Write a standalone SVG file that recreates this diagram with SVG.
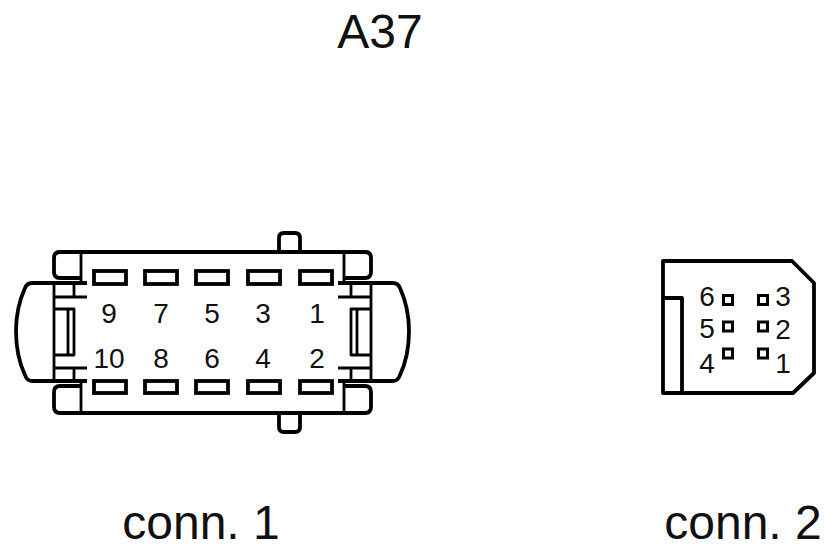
<svg xmlns="http://www.w3.org/2000/svg" width="834" height="554" viewBox="0 0 834 554">
<style>
.o{fill:none;stroke:#000;stroke-width:3.8;stroke-linejoin:round}
.t{stroke-width:2.8}
.p{fill:#fff;stroke:#000;stroke-width:3.8}
.q{fill:#fff;stroke:#000;stroke-width:3}
text{font-family:"Liberation Sans",Arial,sans-serif;fill:#111}
.n{font-size:28px;text-anchor:middle}
.h{font-size:48px;text-anchor:middle}
</style>
<rect width="834" height="554" fill="#fff"/>
<text class="h" x="380" y="48">A37</text>
<g id="conn1">
<path class="o" d="M279 252V238Q279 233 284 233H295Q300 233 300 238V252"/>
<path class="o" d="M279 413V427Q279 432 284 432H295Q300 432 300 427V413"/>
<path class="o" d="M81 252H365Q371 252 371 258V272Q371 278 365 278H344"/>
<path class="o" d="M81 252H60Q54 252 54 258V272Q54 278 60 278H81"/>
<path class="o" d="M81 413H365Q371 413 371 407V392Q371 386 365 386H344"/>
<path class="o" d="M81 413H60Q54 413 54 407V392Q54 386 60 386H81"/>
<path class="o t" d="M81 252V284M81 381V413M344 252V284M344 381V413"/>
<path class="o" d="M87 283H32Q27 283 25 288Q16 308 16 331Q16 356 25 375Q27 381 32 381H87"/>
<path class="o" d="M338 283H393Q398 283 400 288Q409 308 409 331Q409 356 400 375Q398 381 393 381H338"/>
<path class="o t" d="M54 283V381M371 283V381M54 297H87M54 368H87M74 283V297M74 368V381M338 297H371M338 368H371M351 283V297M351 368V381"/>
<path class="o t" d="M54 309H74V355H54M68 309V355M371 309H351V355H371M357 309V355"/>
</g>
<g id="conn1-pins">
<rect class="p" x="94" y="271" width="32" height="13"/><rect class="p" x="145" y="271" width="32" height="13"/><rect class="p" x="196" y="271" width="32" height="13"/><rect class="p" x="248" y="271" width="32" height="13"/><rect class="p" x="300" y="271" width="32" height="13"/>
<rect class="p" x="94" y="381" width="32" height="12"/><rect class="p" x="145" y="381" width="32" height="12"/><rect class="p" x="196" y="381" width="32" height="12"/><rect class="p" x="248" y="381" width="32" height="12"/><rect class="p" x="300" y="381" width="32" height="12"/>
<text class="n" x="109" y="323">9</text><text class="n" x="161" y="323">7</text><text class="n" x="212" y="323">5</text><text class="n" x="263" y="323">3</text><text class="n" x="317" y="323">1</text>
<text class="n" x="109" y="368">10</text><text class="n" x="161" y="368">8</text><text class="n" x="212" y="368">6</text><text class="n" x="263" y="368">4</text><text class="n" x="317" y="368">2</text>
</g>
<g id="conn2">
<path class="o" d="M663 261H792L814 283V373L793 393H663ZM663 298H682V393"/>
<rect class="q" x="723.500" y="295.500" width="9" height="9"/><rect class="q" x="758.500" y="295.500" width="9" height="9"/>
<rect class="q" x="723.500" y="322" width="9" height="9"/><rect class="q" x="758.500" y="322" width="9" height="9"/>
<rect class="q" x="723.500" y="349" width="9" height="9"/><rect class="q" x="758.500" y="349" width="9" height="9"/>
<text class="n" x="707" y="306">6</text><text class="n" x="707" y="338">5</text><text class="n" x="707" y="373">4</text>
<text class="n" x="783" y="306">3</text><text class="n" x="783" y="339">2</text><text class="n" x="783" y="373">1</text>
</g>
<text class="h" x="201" y="539">conn. 1</text>
<text class="h" x="743" y="539">conn. 2</text>
</svg>
